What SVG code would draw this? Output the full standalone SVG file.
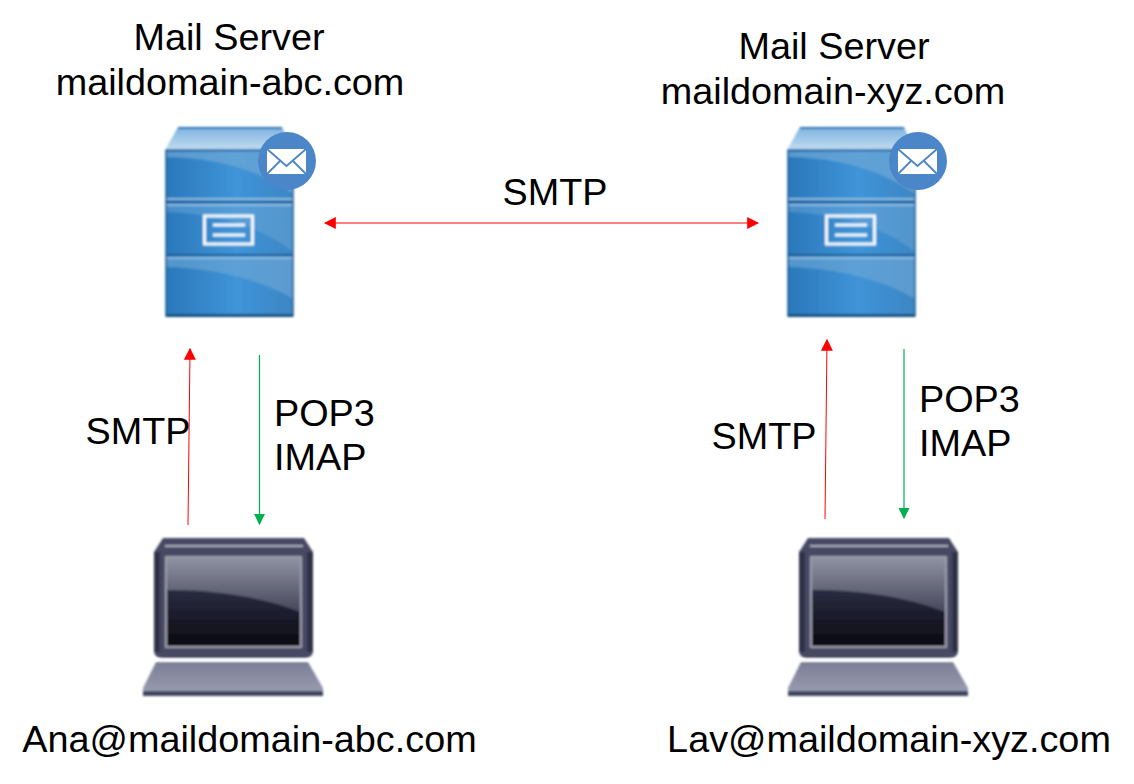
<svg xmlns="http://www.w3.org/2000/svg" xmlns:xlink="http://www.w3.org/1999/xlink" width="1134" height="784" viewBox="0 0 1134 784">
<style>
text{font-family:"Liberation Sans",Arial,sans-serif;font-size:37.8px;fill:#000;text-anchor:middle}
.l{text-anchor:start}
.red{stroke:#ff0000;stroke-width:1;fill:none}
.grn{stroke:#00b050;stroke-width:1.2;fill:none}
</style>
<defs>
<marker id="r" viewBox="0 0 10 10" refX="9" refY="5" markerUnits="userSpaceOnUse" markerWidth="12" markerHeight="12" orient="auto-start-reverse"><path d="M0 0L10 5L0 10z" fill="#ff0000"/></marker>
<marker id="g" viewBox="0 0 10 10" refX="9" refY="5" markerUnits="userSpaceOnUse" markerWidth="11" markerHeight="11" orient="auto"><path d="M0 0L10 5L0 10z" fill="#00b050"/></marker>
<filter id="soft" x="-5%" y="-5%" width="110%" height="110%"><feGaussianBlur stdDeviation="1"/></filter>
<linearGradient id="body" x1="0" y1="0" x2="1" y2="0"><stop offset="0" stop-color="#2a78ba"/><stop offset=".55" stop-color="#3f94d8"/><stop offset="1" stop-color="#3d86c4"/></linearGradient>
<linearGradient id="top" x1="0" y1="0" x2="0" y2="1"><stop offset="0" stop-color="#7db3df"/><stop offset="1" stop-color="#c2dcf1"/></linearGradient>
<linearGradient id="scrTop" x1="0" y1="0" x2="0" y2="1"><stop offset="0" stop-color="#8f92a2"/><stop offset="1" stop-color="#45475a"/></linearGradient>
<linearGradient id="scrLow" gradientUnits="userSpaceOnUse" x1="0" y1="590" x2="0" y2="647"><stop offset="0" stop-color="#2a2c42"/><stop offset="1" stop-color="#0a0a10"/></linearGradient>
<linearGradient id="kb" x1="0" y1="0" x2="0" y2="1"><stop offset="0" stop-color="#7b7f96"/><stop offset="1" stop-color="#9b9eb1"/></linearGradient>
<g id="srv" filter="url(#soft)">
<path d="M165 150L178 127H282L293 150Z" fill="url(#top)"/>
<path d="M178 128H282" stroke="#1e6fb2" stroke-width="2"/>
<rect x="166" y="150" width="127" height="166" fill="url(#body)"/>
<path d="M167 152H292V193C255 168 215 158 167 157Z" fill="#6fa8d6" opacity=".7"/>
<path d="M167 206H292V251C262 228 220 214 167 212Z" fill="#6fa8d6" opacity=".45"/>
<path d="M167 259H292V298C260 280 215 268 167 267Z" fill="#6fa8d6" opacity=".6"/>
<rect x="166" y="150" width="127" height="166" fill="none" stroke="#1c5f98" stroke-width="1.5"/>
<path d="M167 202H292M167 255H292" stroke="#1c5f98" stroke-width="2"/>
<path d="M167 205H292M167 258H292M167 199H292" stroke="#a5cce9" stroke-width="1.400"/>
<rect x="166" y="314" width="127" height="3" fill="#14517f"/>
<rect x="204.500" y="216" width="48" height="28" fill="none" stroke="#f4fafd" stroke-width="3"/>
<path d="M213 225H245M213 235H245" stroke="#f4fafd" stroke-width="3"/>
</g>
<g id="badge">
<circle cx="287" cy="161" r="29" fill="#4a86c8"/>
<path d="M267 149H306V174H267Z" fill="#fff"/>
<path d="M267 149L286.500 166L306 149M267 174L280 161M306 174L293 161" fill="none" stroke="#4a86c8" stroke-width="1.800"/>
</g>
<g id="lap" filter="url(#soft)">
<path d="M154 552L163 538H304L313 552V650Q313 658 305 658H162Q154 658 154 650Z" fill="#474a64"/>
<path d="M154 552H160V652H154ZM307 552H313V652H307Z" fill="#2f3147"/>
<path d="M165 546H303" stroke="#a9acbb" stroke-width="2"/>
<rect x="166" y="557" width="135" height="90" fill="url(#scrLow)" stroke="#9b9daa" stroke-width="2"/>
<path d="M167 558H300V612C265 598 220 590 167 590Z" fill="url(#scrTop)"/>
<path d="M154 660H313" stroke="#fff" stroke-width="2"/>
<path d="M156 662H308L323 688V695H143V688Z" fill="url(#kb)"/>
<rect x="143" y="691" width="180" height="5" fill="#41445f"/>
</g>
</defs>
<g id="connectors">
<path class="red" d="M325 223H758" marker-start="url(#r)" marker-end="url(#r)"/>
<path class="red" d="M188 525L190 349" marker-end="url(#r)"/>
<path class="grn" d="M259.500 355V524" marker-end="url(#g)"/>
<path class="red" d="M825 519L827 340" marker-end="url(#r)"/>
<path class="grn" d="M904 349V518" marker-end="url(#g)"/>
</g>
<g id="server-abc"><use xlink:href="#srv" href="#srv"/><use xlink:href="#badge" href="#badge"/><text x="229" y="50">Mail Server</text><text x="230" y="95">maildomain-abc.com</text></g>
<g id="server-xyz"><use xlink:href="#srv" href="#srv" x="622"/><use xlink:href="#badge" href="#badge" x="631"/><text x="834" y="59">Mail Server</text><text x="833" y="104">maildomain-xyz.com</text></g>
<g id="client-ana"><use xlink:href="#lap" href="#lap"/><text x="249.500" y="752">Ana@maildomain-abc.com</text></g>
<g id="client-lav"><use xlink:href="#lap" href="#lap" x="645"/><text x="889" y="752">Lav@maildomain-xyz.com</text></g>
<g id="labels">
<text x="555" y="205">SMTP</text>
<text x="138" y="444">SMTP</text>
<text class="l" x="274" y="426">POP3</text>
<text class="l" x="274" y="470">IMAP</text>
<text x="764" y="449">SMTP</text>
<text class="l" x="919" y="412">POP3</text>
<text class="l" x="919" y="456">IMAP</text>
</g>
</svg>
